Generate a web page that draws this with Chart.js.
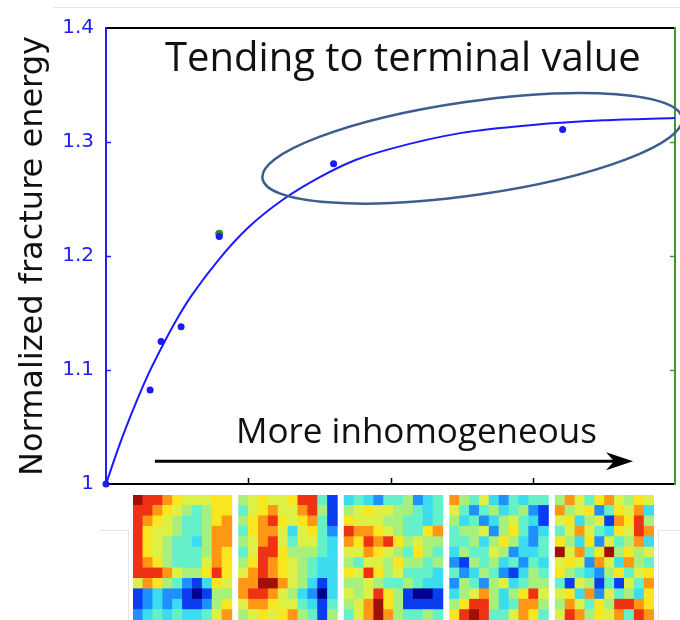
<!DOCTYPE html>
<html>
<head>
<meta charset="utf-8">
<script src="https://cdn.jsdelivr.net/npm/chart.js@4.4.1/dist/chart.umd.min.js"></script>
<style>
  html, body { margin: 0; padding: 0; background: #ffffff; }
  #wrap { position: relative; width: 680px; height: 620px; overflow: hidden; background: #fff; }
  #main { position: absolute; left: 0; top: 0; }
  #heat { position: absolute; left: 133px; top: 495px; }
</style>
</head>
<body>
<div id="wrap">
  <canvas id="main" width="680" height="620"></canvas>
  <canvas id="heat" width="521" height="125"></canvas>
</div>
<script>
// ---------------- data ----------------
const yTicks = [1, 1.1, 1.2, 1.3, 1.4];
const yTickLabels = ['1', '1.1', '1.2', '1.3', '1.4'];
const xTicks = [0, 1, 2, 3, 4];

// measured points (blue dots)
const pointX = [0, 0.31, 0.387, 0.528, 0.796, 1.60, 3.21];
const pointY = [1.000, 1.0825, 1.125, 1.138, 1.217, 1.281, 1.311];

// green marker sitting on the 5th point
const greenX = [0.796];
const greenY = [1.2195];

// fitted curve
const curveX = [0, 0.1, 0.2, 0.3, 0.4, 0.5, 0.6, 0.8, 1.0, 1.25, 1.5, 1.75, 2.0, 2.5, 3.0, 3.5, 4.0];
const curveY = [1.000, 1.036, 1.068, 1.097, 1.122, 1.145, 1.165, 1.198, 1.225, 1.250, 1.269, 1.284, 1.294, 1.308, 1.315, 1.319, 1.321];

// annotations (data units)
const titleText = 'Tending to terminal value';
const titleAt = [0.415, 1.362];
const arrowText = 'More inhomogeneous';
const arrowTextAt = [0.914, 1.036];
const arrowFrom = [0.344, 1.020];
const arrowTo = [3.705, 1.020];
const ellipseLeft = [1.10, 1.268];
const ellipseRight = [4.05, 1.321];
const ellipseHalfY = 0.041;

// heat-map panels (coarse jet index 0..10), 12 rows x 10 cols each
const panel1 = [
  [10,9,9,8,7,6,6,6,7,7],
  [9,9,8,7,6,5,4,5,7,7],
  [9,8,7,6,5,4,4,5,7,8],
  [9,7,6,6,5,4,4,5,8,8],
  [9,7,6,5,4,4,3,5,8,8],
  [9,7,6,5,4,4,4,5,8,7],
  [9,8,7,5,4,4,4,6,8,7],
  [9,9,9,8,6,5,5,7,9,7],
  [6,8,7,5,4,2,1,3,7,6],
  [1,2,3,2,2,1,0,1,5,5],
  [1,2,3,2,3,1,1,2,5,7],
  [2,3,4,3,4,3,3,4,6,8]
];
const panel2 = [
  [5,6,7,6,6,7,9,9,4,1],
  [4,6,7,8,6,6,8,9,5,1],
  [5,7,8,9,7,6,7,8,4,1],
  [4,7,8,8,6,3,6,7,4,2],
  [5,6,8,9,6,4,6,6,4,3],
  [4,6,9,9,7,5,5,5,4,3],
  [5,7,9,8,7,6,5,4,3,3],
  [6,8,9,8,7,6,5,4,3,3],
  [8,8,10,10,8,6,5,3,1,3],
  [8,9,9,8,6,5,3,2,0,3],
  [6,8,8,7,6,6,4,3,1,4],
  [5,6,7,6,7,8,5,4,1,5]
];
const panel3 = [
  [3,4,3,2,4,4,5,2,3,4],
  [5,6,7,6,6,5,5,4,3,4],
  [7,6,6,6,5,5,4,4,3,4],
  [9,8,8,7,6,5,4,4,7,8],
  [8,7,9,8,9,7,5,6,5,5],
  [6,6,8,7,6,5,4,7,5,4],
  [5,4,6,6,5,7,5,5,4,5],
  [7,6,9,7,5,6,4,4,4,3],
  [5,5,6,5,4,4,5,4,3,3],
  [6,5,6,9,7,5,1,0,0,1],
  [5,6,8,10,7,5,1,1,1,1],
  [4,6,8,10,8,5,4,4,5,4]
];
const panel4 = [
  [8,5,4,6,3,2,4,3,4,4],
  [6,4,2,4,5,3,4,5,2,1],
  [5,3,4,2,3,5,6,4,3,1],
  [4,5,5,6,2,5,7,4,2,3],
  [4,4,5,3,5,7,5,3,2,4],
  [3,5,4,4,6,5,2,3,3,4],
  [2,1,5,4,5,3,4,2,4,3],
  [4,2,3,5,4,2,1,3,5,4],
  [2,5,4,2,5,6,3,4,5,5],
  [3,5,6,8,5,3,5,7,9,6],
  [5,7,9,9,5,3,4,8,8,5],
  [7,9,10,9,4,4,6,8,7,4]
];
const panel5 = [
  [5,8,6,4,7,8,6,5,7,6],
  [8,5,6,7,2,4,7,6,8,3],
  [6,7,3,5,6,1,8,7,9,5],
  [4,6,8,6,4,3,7,6,9,8],
  [7,5,3,7,2,6,4,5,8,3],
  [10,6,8,4,7,10,5,7,5,6],
  [6,7,6,2,8,6,3,8,5,4],
  [7,5,4,3,2,5,7,4,6,7],
  [4,1,6,5,1,4,1,6,4,8],
  [6,7,3,8,2,6,4,5,3,7],
  [5,8,6,4,7,5,9,9,8,7],
  [6,9,8,5,7,6,8,4,9,8]
];
const panels = [panel1, panel2, panel3, panel4, panel5];
const jet = ['#00008c','#0a3cf0','#1e90ff','#3cdcf0','#64f0c8','#a8f07c','#dcf046','#fae61e','#ff9614','#f03214','#a01008'];

// ---------------- styles ----------------
const BLUE = '#1a1aff';
const AXIS_BLUE = '#2020f5';
const GREEN = '#3c9a32';
const ELLIPSE = '#3d5d8f';

const pts = (xs, ys) => xs.map((x, i) => ({ x, y: ys[i] }));

const decor = {
  id: 'decor',
  beforeDraw(chart) {
    const c = chart.ctx;
    c.save();
    c.strokeStyle = '#e4e4e4';
    c.lineWidth = 1;
    c.beginPath();
    c.moveTo(53, 7.5); c.lineTo(680, 7.5);
    c.moveTo(100, 530.5); c.lineTo(128.5, 530.5); c.lineTo(128.5, 620);
    c.moveTo(680, 530.5); c.lineTo(658.5, 530.5); c.lineTo(658.5, 620);
    c.stroke();
    c.restore();
  },
  afterDraw(chart) {
    const c = chart.ctx;
    const xs = chart.scales.x, ys = chart.scales.y;
    const px = v => xs.getPixelForValue(v);
    const py = v => ys.getPixelForValue(v);
    const a = chart.chartArea;
    c.save();
    // inward tick marks
    c.lineWidth = 1.5;
    yTicks.slice(1, -1).forEach(v => {
      const y = Math.round(py(v)) + 0.5;
      c.strokeStyle = AXIS_BLUE;
      c.beginPath(); c.moveTo(a.left, y); c.lineTo(a.left + 5, y); c.stroke();
      c.strokeStyle = GREEN;
      c.beginPath(); c.moveTo(a.right, y); c.lineTo(a.right - 5, y); c.stroke();
    });
    c.strokeStyle = '#000';
    xTicks.slice(1, -1).forEach(v => {
      const x = Math.round(px(v)) + 0.5;
      c.beginPath(); c.moveTo(x, a.bottom); c.lineTo(x, a.bottom - 6); c.stroke();
    });
    // ellipse
    const x1 = px(ellipseLeft[0]), y1 = py(ellipseLeft[1]);
    const x2 = px(ellipseRight[0]), y2 = py(ellipseRight[1]);
    const cx = (x1 + x2) / 2, cy = (y1 + y2) / 2;
    const rx = Math.hypot(x2 - x1, y2 - y1) / 2;
    const ry = Math.abs(py(1 + ellipseHalfY) - py(1));
    c.strokeStyle = ELLIPSE;
    c.lineWidth = 2.5;
    c.beginPath();
    c.ellipse(cx, cy, rx, ry, Math.atan2(y2 - y1, x2 - x1), 0, Math.PI * 2);
    c.stroke();
    // arrow
    const ax1 = px(arrowFrom[0]), ay = py(arrowFrom[1]), ax2 = px(arrowTo[0]);
    c.strokeStyle = '#000';
    c.lineWidth = 3;
    c.beginPath(); c.moveTo(ax1, ay); c.lineTo(ax2 - 14, ay); c.stroke();
    c.fillStyle = '#000';
    c.beginPath();
    c.moveTo(ax2, ay);
    c.lineTo(ax2 - 27, ay - 9);
    c.lineTo(ax2 - 19, ay);
    c.lineTo(ax2 - 27, ay + 9);
    c.closePath();
    c.fill();
    // texts
    c.fillStyle = '#111';
    c.textBaseline = 'alphabetic';
    c.textAlign = 'left';
    c.font = '40px "Open Sans"';
    c.fillText(titleText, px(titleAt[0]), py(titleAt[1]));
    c.font = '35px "Open Sans"';
    c.fillText(arrowText, px(arrowTextAt[0]), py(arrowTextAt[1]));
    c.restore();
  }
};

new Chart(document.getElementById('main'), {
  type: 'scatter',
  data: {
    datasets: [
      {
        type: 'line',
        data: pts(curveX, curveY),
        borderColor: BLUE,
        borderWidth: 2,
        pointRadius: 0,
        cubicInterpolationMode: 'monotone',
        fill: false,
        clip: false,
        order: 3
      },
      {
        data: pts(greenX, greenY),
        backgroundColor: '#2e8b2e',
        borderWidth: 0,
        pointRadius: 4,
        clip: false,
        order: 2
      },
      {
        data: pts(pointX, pointY),
        backgroundColor: BLUE,
        borderWidth: 0,
        pointRadius: 3.5,
        clip: false,
        order: 1
      }
    ]
  },
  options: {
    responsive: false,
    animation: false,
    events: [],
    layout: { padding: { left: 0, top: 28, right: 5, bottom: 136 } },
    plugins: { legend: { display: false }, tooltip: { enabled: false } },
    scales: {
      x: {
        type: 'linear', min: 0, max: 4, position: 'bottom',
        grid: { display: false, drawTicks: false },
        border: { display: true, color: '#000', width: 2 },
        ticks: { display: false },
        afterFit: s => { s.height = 0; }
      },
      xTop: {
        type: 'linear', min: 0, max: 4, position: 'top',
        grid: { display: false, drawTicks: false },
        border: { display: true, color: '#000', width: 2 },
        ticks: { display: false },
        afterFit: s => { s.height = 0; }
      },
      y: {
        type: 'linear', min: 1, max: 1.4, position: 'left',
        afterBuildTicks: s => { s.ticks = yTicks.map(v => ({ value: v })); },
        grid: { display: false, drawTicks: false },
        border: { display: true, color: AXIS_BLUE, width: 2 },
        ticks: {
          color: AXIS_BLUE,
          font: { family: 'DejaVu Sans', size: 20 },
          padding: 12,
          callback: (v, i) => yTickLabels[i]
        },
        title: {
          display: true,
          text: 'Normalized fracture energy',
          color: '#111',
          font: { family: 'DejaVu Sans', size: 32 },
          padding: { top: 14, bottom: 0 }
        },
        afterFit: s => { s.width = 106; }
      },
      yRight: {
        type: 'linear', min: 1, max: 1.4, position: 'right',
        grid: { display: false, drawTicks: false },
        border: { display: true, color: GREEN, width: 2 },
        ticks: { display: false },
        afterFit: s => { s.width = 0; }
      }
    }
  },
  plugins: [decor]
});

// ---------------- heat-map strip ----------------
const PITCH = 10.68;
const cells = [];
panels.forEach((grid, p) => {
  grid.forEach((row, r) => {
    row.forEach((v, c) => {
      cells.push({ x: p * PITCH + c + 0.5, y: [r, r + 1], v });
    });
  });
});

new Chart(document.getElementById('heat'), {
  type: 'bar',
  data: {
    datasets: [{
      data: cells,
      backgroundColor: ctx => jet[ctx.raw ? ctx.raw.v : 0],
      borderWidth: 0,
      barPercentage: 1,
      categoryPercentage: 1,
      grouped: false
    }]
  },
  options: {
    responsive: false,
    animation: false,
    events: [],
    layout: { padding: 0 },
    plugins: { legend: { display: false }, tooltip: { enabled: false } },
    scales: {
      x: { type: 'linear', min: 0, max: 4 * PITCH + 10, display: false, offset: false },
      y: { type: 'linear', min: 0, max: 12, reverse: true, display: false }
    }
  }
});
</script>
</body>
</html>
